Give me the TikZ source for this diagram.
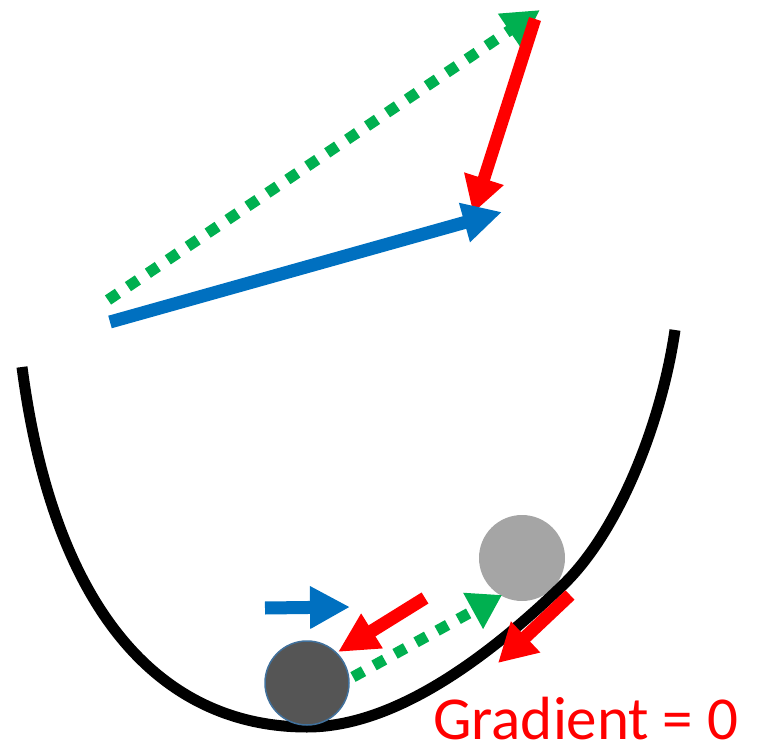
\documentclass[tikz,border=0pt]{standalone}
\usepackage{fontspec}
\setmainfont{Carlito}
\usetikzlibrary{arrows.meta}
\definecolor{mygreen}{HTML}{00B050}
\definecolor{myred}{HTML}{FF0000}
\definecolor{myblue}{HTML}{0070C0}
\definecolor{lightball}{HTML}{A5A5A5}
\definecolor{darkball}{HTML}{555555}
\definecolor{balledge}{HTML}{41719C}
\tikzset{
  bluearr/.style={draw=myblue, line width=13pt, -{Triangle[length=39pt,width=38pt]}},
  redarr/.style={draw=myred, line width=12.5pt, -{Triangle[length=36pt,width=39pt]}},
  greenarr/.style={draw=mygreen, line width=11pt, dash pattern=on 12pt off 12pt, -{Triangle[length=37pt,width=38pt]}},
  valley/.style={draw=black, line width=11pt},
  ball/.style={circle, minimum size=86pt, inner sep=0pt},
}
\begin{document}
\begin{tikzpicture}[x=1pt, y=-1pt]
\useasboundingbox (0,0) rectangle (766,746);
% top vectors
\coordinate (g1s) at (108,300);
\coordinate (g1e) at (540,10);
\coordinate (r1s) at (535,19);
\coordinate (r1e) at (473,213);
\coordinate (b1s) at (110,322);
\coordinate (b1e) at (502,212);
\draw[greenarr] (g1s) -- (g1e);
\draw[redarr] (r1s) -- (r1e);
\draw[bluearr] (b1s) -- (b1e);
% balls and valley
\node[ball, fill=lightball] (light) at (522,558) {};
\coordinate (vl) at (22,367);
\coordinate (vb) at (307,727);
\coordinate (vm) at (563,585);
\coordinate (vr) at (675,330);
\draw[valley] (vl) .. controls (55,620) and (167,727) .. (vb)
  .. controls (390,727) and (480,665) .. (vm)
  .. controls (620,530) and (662,420) .. (vr);
\node[ball, fill=darkball, draw=balledge, line width=1.5pt, minimum size=84pt] (dark) at (307,683) {};
% small vectors
\coordinate (b2s) at (265,608);
\coordinate (b2e) at (350,607);
\coordinate (r2s) at (425,598);
\coordinate (r2e) at (338,652);
\coordinate (g2s) at (353,677);
\coordinate (g2e) at (502,595);
\coordinate (r3s) at (570,595);
\coordinate (r3e) at (498,663);
\draw[bluearr, -{Triangle[length=40pt,width=40pt]}] (b2s) -- (b2e);
\draw[redarr, line width=13pt, -{Triangle[length=40pt,width=38pt]}] (r2s) -- (r2e);
\draw[greenarr, -{Triangle[length=33pt,width=39pt]}] (g2s) -- (g2e);
\draw[redarr, line width=13pt, -{Triangle[length=38pt,width=40pt]}] (r3s) -- (r3e);
\node[anchor=base west, inner sep=0pt, text=myred, font=\fontsize{61}{66}\selectfont] (label) at (433,739) {Gradient = 0};
\end{tikzpicture}
\end{document}
